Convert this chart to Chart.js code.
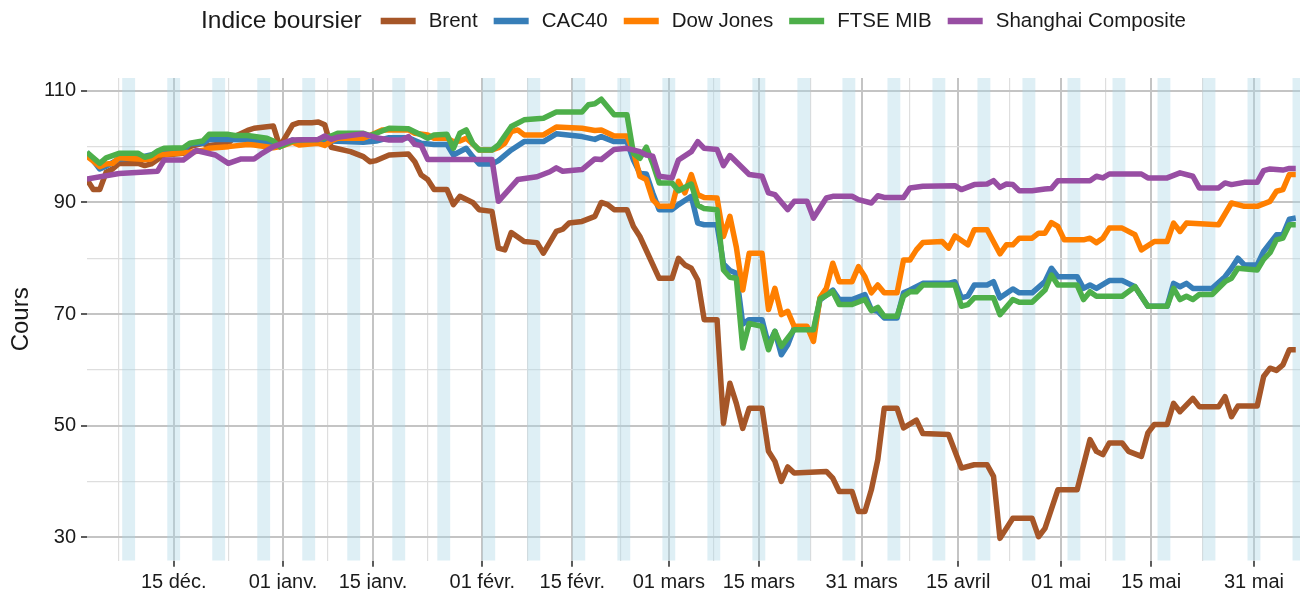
<!DOCTYPE html>
<html lang="fr">
<head>
<meta charset="utf-8">
<title>Indices boursiers</title>
<script src="https://cdn.jsdelivr.net/npm/chart.js@4.4.1/dist/chart.umd.min.js"></script>
<style>
  html, body { margin: 0; padding: 0; background: #ffffff; overflow: hidden; }
  #cadre { width: 1306px; height: 589px; }
</style>
</head>
<body>
<div id="cadre"><canvas id="graphique" width="1306" height="589"></canvas></div>
<script>
const SERIES = ["Brent", "CAC40", "Dow Jones", "FTSE MIB", "Shanghai Composite"];
const COULEURS = ["#a65628", "#377eb8", "#ff7f00", "#4daf4a", "#984ea3"];

// [jour depuis le 1er décembre 2019, cours (base 100 au 31 déc.)]
const brent = [
    [0, 94.1], [1, 92.3], [2, 92.3], [3, 95.4], [4, 96.0], [5, 97.0], [8, 97.0], [9, 96.6], [10, 96.9],
    [12, 98.5], [15, 98.8], [16, 100.0], [18, 100.6], [19, 100.2], [22, 100.6], [23, 101.8], [25, 102.9],
    [26, 103.3], [29, 103.7], [30, 100.0], [32, 103.9], [33, 104.3], [35, 104.3], [36, 104.4], [37, 103.9],
    [38, 99.9], [41, 99.1], [43, 98.2], [44, 97.3], [45, 97.5], [47, 98.5], [50, 98.7], [51, 97.3],
    [52, 94.9], [53, 94.1], [54, 92.3], [56, 92.3], [57, 89.6], [58, 91.1], [60, 90.0], [61, 88.7],
    [63, 88.4], [64, 81.8], [65, 81.5], [66, 84.6], [68, 83.0], [70, 82.8], [71, 80.9], [73, 84.8],
    [74, 85.2], [75, 86.3], [77, 86.6], [79, 87.5], [80, 90.0], [81, 89.6], [82, 88.7], [84, 88.7],
    [85, 85.7], [86, 83.9], [89, 76.4], [91, 76.4], [92, 80.0], [93, 78.8], [94, 78.2], [95, 76.1],
    [96, 69.0], [98, 69.0], [99, 50.4], [100, 57.6], [101, 54.0], [102, 49.5], [103, 53.1], [105, 53.1],
    [106, 45.4], [107, 43.6], [108, 40.0], [109, 42.6], [110, 41.5], [115, 41.8], [116, 40.6], [117, 38.2],
    [119, 38.2], [120, 34.6], [121, 34.6], [122, 38.5], [123, 43.9], [124, 53.1], [126, 53.1], [127, 49.6],
    [129, 51.0], [130, 48.6], [134, 48.4], [136, 42.4], [138, 43.0], [140, 43.0], [141, 40.9], [142, 29.8],
    [144, 33.4], [147, 33.4], [148, 30.1], [149, 31.6], [151, 38.5], [154, 38.5], [156, 47.5], [157, 45.4],
    [158, 44.8], [159, 46.9], [161, 46.9], [162, 45.4], [164, 44.5], [165, 48.7], [166, 50.2], [168, 50.2],
    [169, 54.0], [170, 52.5], [172, 54.9], [173, 53.4], [176, 53.4], [177, 55.2], [178, 51.6], [179, 53.5],
    [182, 53.5], [183, 58.8], [184, 60.3], [185, 59.9], [186, 60.9], [187, 63.6], [188, 63.6]
];

const cac40 = [
    [0, 99.0], [2, 96.0], [3, 96.5], [5, 97.8], [8, 98.0], [11, 98.8], [15, 99.3], [16, 100.5], [18, 100.6],
    [19, 101.3], [22, 101.3], [25, 101.2], [28, 100.8], [30, 100.0], [32, 101.2], [33, 100.6], [36, 101.0],
    [38, 101.0], [43, 100.8], [45, 101.0], [47, 101.6], [50, 101.6], [52, 100.6], [54, 100.4], [56, 100.4],
    [57, 98.5], [59, 99.7], [60, 98.2], [61, 96.9], [63, 96.9], [64, 97.5], [66, 99.4], [68, 100.9],
    [71, 100.9], [73, 102.3], [77, 101.8], [79, 101.3], [80, 101.8], [82, 100.9], [84, 100.9], [85, 97.6],
    [86, 95.2], [87, 95.1], [88, 91.7], [89, 88.7], [91, 88.7], [92, 89.6], [94, 91.1], [95, 86.3],
    [96, 86.0], [98, 86.0], [99, 79.0], [100, 77.8], [101, 77.3], [102, 68.2], [103, 69.0], [105, 69.0],
    [106, 64.5], [107, 66.9], [108, 62.7], [109, 64.5], [110, 67.5], [112, 67.5], [113, 66.8], [114, 72.5],
    [116, 74.3], [117, 72.6], [119, 72.6], [121, 73.5], [122, 70.8], [123, 70.5], [124, 69.3], [126, 69.3],
    [127, 73.8], [128, 74.3], [130, 75.5], [134, 75.5], [135, 75.8], [136, 72.9], [137, 73.2], [138, 75.2],
    [140, 75.2], [141, 75.8], [142, 72.9], [144, 74.5], [145, 73.8], [147, 73.8], [149, 75.8], [150, 78.2],
    [151, 76.7], [154, 76.7], [155, 74.6], [156, 75.2], [157, 74.6], [159, 76.0], [161, 76.0], [163, 74.9],
    [165, 71.4], [168, 71.4], [169, 75.5], [170, 74.9], [171, 75.5], [172, 74.6], [175, 74.6], [177, 76.7],
    [178, 78.2], [179, 80.0], [180, 78.8], [182, 78.8], [183, 81.2], [185, 84.2], [186, 84.2], [187, 87.0],
    [188, 87.2]
];

const dowJones = [
    [0, 98.3], [1, 97.4], [2, 96.4], [3, 96.9], [4, 97.0], [5, 98.0], [8, 97.8], [9, 97.7], [10, 97.8],
    [11, 98.5], [12, 98.6], [15, 98.9], [16, 99.0], [18, 99.3], [19, 99.7], [22, 100.0], [25, 100.4],
    [26, 100.3], [29, 99.8], [30, 100.0], [32, 100.8], [33, 100.3], [36, 100.6], [37, 100.2], [38, 101.0],
    [39, 101.5], [43, 101.5], [44, 102.0], [46, 103.0], [50, 103.0], [51, 102.4], [53, 102.1], [54, 101.5],
    [56, 101.5], [57, 100.9], [58, 101.0], [59, 101.5], [60, 100.5], [61, 99.4], [63, 99.4], [64, 99.8],
    [65, 100.6], [66, 102.7], [67, 103.0], [68, 102.1], [71, 102.1], [73, 103.5], [77, 103.3], [79, 102.9],
    [80, 103.0], [82, 101.9], [84, 101.9], [85, 99.1], [86, 94.7], [87, 94.1], [88, 90.5], [89, 89.3],
    [91, 89.3], [92, 93.8], [93, 91.7], [94, 95.0], [95, 91.4], [96, 90.9], [98, 90.8], [99, 83.9],
    [100, 87.5], [101, 82.0], [102, 74.3], [103, 80.9], [105, 80.9], [106, 70.8], [107, 74.6], [108, 69.9],
    [109, 70.5], [110, 67.8], [112, 67.8], [113, 65.1], [114, 72.9], [115, 74.6], [116, 79.1], [117, 75.8],
    [119, 75.8], [120, 78.5], [121, 76.7], [122, 73.8], [123, 75.2], [124, 73.8], [126, 73.8], [127, 79.7],
    [128, 79.7], [129, 81.5], [130, 82.8], [133, 83.0], [134, 81.8], [135, 84.0], [137, 82.4], [138, 85.1],
    [140, 85.1], [142, 80.8], [143, 82.4], [144, 82.4], [145, 83.6], [147, 83.6], [148, 84.5], [149, 84.5],
    [150, 86.4], [151, 85.7], [152, 83.3], [155, 83.3], [156, 83.6], [157, 82.8], [158, 83.6], [159, 85.4],
    [161, 85.4], [163, 84.2], [164, 81.5], [166, 83.0], [168, 83.0], [169, 86.3], [170, 84.8], [171, 86.3],
    [176, 86.0], [178, 89.9], [180, 89.3], [182, 89.3], [184, 90.2], [185, 92.0], [186, 92.3], [187, 95.0],
    [188, 95.0]
];

const ftseMib = [
    [0, 99.0], [1, 98.0], [2, 97.0], [3, 98.0], [4, 98.4], [5, 98.8], [8, 98.8], [9, 98.1], [10, 98.4],
    [11, 99.2], [12, 99.7], [15, 99.8], [16, 100.6], [18, 101.0], [19, 102.2], [22, 102.2], [23, 102.0],
    [25, 102.0], [28, 101.5], [29, 101.0], [30, 100.0], [32, 101.0], [33, 101.2], [36, 101.3], [38, 101.9],
    [39, 102.4], [43, 102.4], [44, 102.0], [45, 102.4], [47, 103.3], [50, 103.2], [52, 102.1], [53, 101.5],
    [54, 102.1], [56, 102.2], [57, 99.7], [58, 102.4], [59, 103.0], [60, 100.6], [61, 99.4], [63, 99.4],
    [64, 100.3], [66, 103.6], [68, 104.8], [71, 105.1], [73, 106.2], [77, 106.2], [78, 107.5], [79, 107.7],
    [80, 108.5], [82, 105.7], [84, 105.7], [85, 98.8], [86, 97.9], [87, 99.9], [88, 97.0], [89, 93.5],
    [91, 93.5], [92, 92.1], [94, 93.3], [95, 89.5], [96, 88.9], [98, 88.7], [99, 77.9], [100, 76.6],
    [101, 76.4], [102, 63.9], [103, 68.3], [105, 67.8], [106, 63.6], [107, 66.9], [108, 64.2], [110, 67.2],
    [113, 67.2], [114, 72.7], [116, 74.0], [117, 71.7], [119, 71.7], [121, 72.6], [122, 70.6], [123, 71.2],
    [124, 69.6], [126, 69.6], [127, 73.2], [128, 74.0], [129, 74.0], [130, 75.2], [135, 75.2], [136, 71.4],
    [137, 71.7], [138, 72.9], [141, 72.9], [142, 69.9], [144, 72.6], [145, 72.1], [147, 72.1], [149, 74.3],
    [150, 77.0], [151, 75.2], [154, 75.2], [155, 72.6], [156, 74.0], [157, 73.2], [161, 73.2], [163, 74.9],
    [165, 71.4], [168, 71.4], [169, 74.6], [170, 72.6], [171, 73.2], [172, 72.6], [173, 73.5], [175, 73.5],
    [177, 75.8], [178, 76.4], [179, 78.2], [182, 77.9], [183, 79.8], [184, 81.0], [185, 83.3], [186, 83.6],
    [187, 86.0], [188, 86.0]
];

const shanghai = [
    [0, 94.2], [5, 95.2], [11, 95.6], [12, 97.6], [15, 97.6], [17, 99.3], [20, 98.5], [22, 97.0], [24, 97.8],
    [26, 97.8], [27, 98.6], [29, 100.0], [32, 101.2], [36, 101.3], [37, 101.9], [38, 101.3], [39, 101.7],
    [43, 102.3], [45, 101.6], [47, 101.2], [49, 101.2], [50, 101.8], [51, 100.4], [52, 100.2], [53, 97.7],
    [63, 97.7], [64, 90.2], [67, 94.1], [70, 94.6], [72, 95.5], [73, 96.2], [74, 95.6], [77, 95.9],
    [79, 97.8], [80, 97.7], [82, 99.5], [84, 99.7], [86, 99.1], [87, 98.5], [88, 98.3], [89, 94.7],
    [91, 94.4], [92, 97.6], [94, 99.1], [95, 100.9], [96, 99.7], [98, 99.5], [99, 96.6], [100, 98.4],
    [103, 95.0], [105, 94.7], [106, 91.7], [107, 91.4], [109, 88.7], [110, 90.2], [112, 90.2], [113, 87.2],
    [115, 90.8], [116, 91.1], [119, 91.1], [120, 90.5], [122, 89.9], [123, 91.2], [124, 90.9], [127, 90.9],
    [128, 92.6], [130, 92.9], [135, 93.0], [136, 92.3], [138, 93.2], [140, 93.3], [141, 93.9], [142, 92.7],
    [143, 93.3], [144, 93.2], [145, 92.1], [147, 92.1], [149, 92.4], [150, 92.5], [151, 93.9], [156, 93.9],
    [157, 94.7], [158, 94.4], [159, 95.1], [164, 95.1], [165, 94.4], [168, 94.4], [170, 95.3], [172, 94.7],
    [173, 92.6], [176, 92.6], [177, 93.5], [178, 93.2], [180, 93.6], [182, 93.6], [183, 95.7], [184, 96.0],
    [186, 95.8], [187, 96.1], [188, 96.1]
];

const VALEURS = [brent, cac40, dowJones, ftseMib, shanghai];

const DATES_GRADUATIONS = [
    "2019-12-15", "2020-01-01", "2020-01-15", "2020-02-01", "2020-02-15", "2020-03-01",
    "2020-03-15", "2020-03-31", "2020-04-15", "2020-05-01", "2020-05-15", "2020-05-31"
];
const ETIQUETTES_DATES = [
    "15 déc.", "01 janv.", "15 janv.", "01 févr.", "15 févr.", "01 mars",
    "15 mars", "31 mars", "15 avril", "01 mai", "15 mai", "31 mai"
];
const GRADUATIONS_COURS = [30, 50, 70, 90, 110];

const ORIGINE = Date.UTC(2019, 11, 1);

function jour(iso) {
    const [a, m, j] = iso.split("-").map(Number);
    return (Date.UTC(a, m - 1, j) - ORIGINE) / 86400000;
}

const PREMIER_SAMEDI = jour("2019-12-07");
const POLICE = "'Liberation Sans', Arial, sans-serif";
const GRIS_MAJEUR = "#c4c4c4";
const GRIS_MINEUR = "#dedede";

// graduations principales + secondaires (à mi-chemin)
const posMajeures = DATES_GRADUATIONS.map(jour);
const graduationsX = [];
graduationsX.push({ value: posMajeures[0] - (posMajeures[1] - posMajeures[0]) / 2, major: false });
posMajeures.forEach((p, i) => {
    graduationsX.push({ value: p, major: true, texte: ETIQUETTES_DATES[i] });
    if (i < posMajeures.length - 1) {
        graduationsX.push({ value: (p + posMajeures[i + 1]) / 2, major: false });
    }
});

const graduationsY = [];
GRADUATIONS_COURS.forEach((v, i) => {
    graduationsY.push({ value: v, major: true });
    if (i < GRADUATIONS_COURS.length - 1) {
        graduationsY.push({ value: (v + GRADUATIONS_COURS[i + 1]) / 2, major: false });
    }
});

const estMajeur = ctx => ctx.tick && ctx.tick.major;

const weekEnds = {
    id: "weekEnds",
    beforeDatasetsDraw(chart) {
        const { ctx, chartArea: a } = chart;
        const x = chart.scales.x;
        ctx.save();
        ctx.beginPath();
        ctx.rect(a.left, a.top, a.right - a.left, a.bottom - a.top);
        ctx.clip();
        ctx.fillStyle = "rgba(173, 216, 230, 0.4)";
        for (let j = PREMIER_SAMEDI; j <= x.max; j += 7) {
            const x1 = x.getPixelForValue(j);
            const x2 = x.getPixelForValue(j + 2);
            ctx.fillRect(x1, a.top, x2 - x1, a.bottom - a.top);
        }
        ctx.restore();
    }
};

const legende = {
    id: "legende",
    afterDraw(chart) {
        const { ctx, chartArea: a } = chart;
        const titre = "Indice boursier";
        const cle = 35, ecartTitre = 19, ecartCle = 13, ecartItem = 16;
        const y = 21;

        ctx.save();
        ctx.textBaseline = "middle";
        ctx.textAlign = "left";
        ctx.fillStyle = "#1a1a1a";

        ctx.font = "24.5px " + POLICE;
        const lt = ctx.measureText(titre).width;
        ctx.font = "20.5px " + POLICE;
        const largeurs = SERIES.map(s => ctx.measureText(s).width);

        let total = lt + ecartTitre;
        largeurs.forEach(w => { total += cle + ecartCle + w; });
        total += ecartItem * (SERIES.length - 1);

        let x = (a.left + a.right) / 2 - total / 2;
        ctx.font = "24.5px " + POLICE;
        ctx.fillText(titre, x, y);
        x += lt + ecartTitre;

        ctx.font = "20.5px " + POLICE;
        SERIES.forEach((s, i) => {
            ctx.strokeStyle = COULEURS[i];
            ctx.lineWidth = 6.5;
            ctx.beginPath();
            ctx.moveTo(x, y);
            ctx.lineTo(x + cle, y);
            ctx.stroke();
            x += cle + ecartCle;
            ctx.fillText(s, x, y);
            x += largeurs[i] + ecartItem;
        });
        ctx.restore();
    }
};

new Chart(document.getElementById("graphique"), {
    type: "line",
    data: {
        datasets: SERIES.map((nom, i) => ({
            label: nom,
            // points placés à midi de chaque jour
            data: VALEURS[i].map(([j, c]) => ({ x: j + 0.5, y: c })),
            borderColor: COULEURS[i],
            backgroundColor: COULEURS[i],
            borderWidth: 5.5,
            borderJoinStyle: "round",
            pointRadius: 0,
            tension: 0,
            order: SERIES.length - i
        }))
    },
    options: {
        responsive: false,
        devicePixelRatio: 1,
        animation: false,
        layout: { padding: { top: 78, right: 6, bottom: 0, left: 0 } },
        plugins: {
            legend: { display: false },
            tooltip: { enabled: false }
        },
        scales: {
            x: {
                type: "linear",
                min: 0.52,
                max: 189.16,
                afterBuildTicks(axis) { axis.ticks = graduationsX.map(t => ({ ...t })); },
                afterFit(axis) { axis.height = 28.3; },
                border: { display: false },
                grid: {
                    color: ctx => estMajeur(ctx) ? GRIS_MAJEUR : GRIS_MINEUR,
                    lineWidth: ctx => estMajeur(ctx) ? 2 : 1.2,
                    tickColor: ctx => estMajeur(ctx) ? "#333333" : "rgba(0,0,0,0)",
                    tickWidth: 1.6,
                    tickLength: 6
                },
                ticks: {
                    autoSkip: false,
                    maxRotation: 0,
                    padding: 4,
                    color: "#1a1a1a",
                    font: { family: POLICE, size: 20 },
                    callback: (v, i, ticks) => ticks[i].texte || ""
                }
            },
            y: {
                min: 25.8,
                max: 112.3,
                afterBuildTicks(axis) { axis.ticks = graduationsY.map(t => ({ ...t })); },
                afterFit(axis) { axis.width = 87; },
                border: { display: false },
                grid: {
                    color: ctx => estMajeur(ctx) ? GRIS_MAJEUR : GRIS_MINEUR,
                    lineWidth: ctx => estMajeur(ctx) ? 2 : 1.2,
                    tickColor: ctx => estMajeur(ctx) ? "#333333" : "rgba(0,0,0,0)",
                    tickWidth: 1.6,
                    tickLength: 6
                },
                ticks: {
                    padding: 5,
                    color: "#1a1a1a",
                    font: { family: POLICE, size: 20 },
                    callback: v => GRADUATIONS_COURS.includes(v) ? String(v) : ""
                },
                title: {
                    display: true,
                    text: "Cours",
                    color: "#1a1a1a",
                    font: { family: POLICE, size: 24 },
                    padding: { top: 7, bottom: 0 }
                }
            }
        }
    },
    plugins: [weekEnds, legende]
});
</script>
</body>
</html>
